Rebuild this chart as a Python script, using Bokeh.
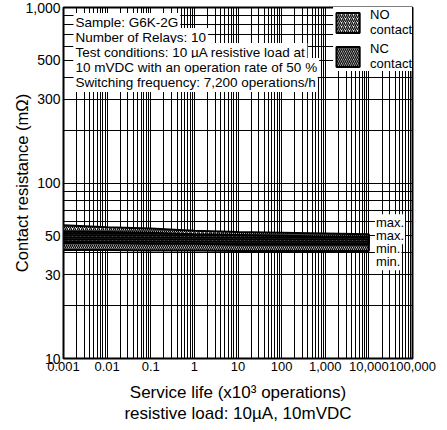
from bokeh.plotting import figure
from bokeh.models import FixedTicker, Label, Legend, LegendItem
from bokeh.embed import file_html
from bokeh.resources import INLINE

# ---- data ----
service_life = [0.001, 0.01, 0.1, 1, 10, 100, 1000, 10000]
no_max = [57.5, 56.0, 55.0, 53.5, 52.5, 52.0, 51.5, 51.0]
no_min = [45.5, 45.5, 45.0, 45.0, 44.5, 44.5, 44.5, 44.5]
nc_max = [53.0, 52.5, 52.0, 51.0, 50.5, 50.0, 49.5, 49.5]
nc_min = [41.5, 41.5, 41.3, 41.2, 41.0, 41.0, 41.0, 41.0]

x_tick_values = [0.001, 0.01, 0.1, 1, 10, 100, 1000, 10000, 100000]
x_tick_labels = ["0.001", "0.01", "0.1", "1", "10", "100", "1,000", "10,000", "100,000"]
y_tick_values = [10, 30, 50, 100, 300, 500, 1000]
y_tick_labels = ["10", "30", "50", "100", "300", "500", "1,000"]

info_lines = [
    "Sample: G6K-2G",
    "Number of Relays: 10",
    "Test conditions: 10 \u00b5A resistive load at",
    "10 mVDC with an operation rate of 50 %",
    "Switching frequency: 7,200 operations/h",
]
band_labels = ["max.", "max.", "min.", "min."]
band_label_values = [59.3, 50.0, 42.2, 35.6]

FONT = "Liberation Sans"

p = figure(x_axis_type="log", y_axis_type="log",
           x_range=(0.001, 100000), y_range=(10, 1000),
           width=437, height=426,
           min_border_left=63, min_border_right=25, min_border_top=7, min_border_bottom=67,
           output_backend="svg", toolbar_location=None)

p.background_fill_color = "white"
p.outline_line_color = "black"
p.outline_line_width = 2

# grid: lines at every 1..9 multiple of each decade
x_grid = [m * 10.0 ** k for k in range(-3, 5) for m in range(1, 10)] + [100000]
y_grid = [m * 10.0 ** k for k in range(1, 3) for m in range(1, 10)] + [1000]
p.xgrid.ticker = FixedTicker(ticks=x_grid)
p.ygrid.ticker = FixedTicker(ticks=y_grid)
for g in (p.xgrid, p.ygrid):
    g.grid_line_color = "black"
    g.grid_line_alpha = 1.0
    g.grid_line_width = 1

# axes
p.xaxis.ticker = FixedTicker(ticks=x_tick_values)
p.yaxis.ticker = FixedTicker(ticks=y_tick_values)
p.xaxis.major_label_overrides = {v: s for v, s in zip(x_tick_values, x_tick_labels)}
p.yaxis.major_label_overrides = {v: s for v, s in zip(y_tick_values, y_tick_labels)}
for ax in (p.xaxis, p.yaxis):
    ax.axis_line_color = None
    ax.major_tick_out = 0
    ax.major_tick_in = 0
    ax.minor_tick_out = 0
    ax.minor_tick_in = 0
    ax.major_label_text_font = FONT
    ax.major_label_text_color = "black"
    ax.axis_label_text_font = FONT
    ax.axis_label_text_font_style = "normal"
    ax.axis_label_text_color = "black"
p.xaxis.major_label_text_font_size = "13px"
p.yaxis.major_label_text_font_size = "14px"
p.xaxis.major_label_standoff = 3
p.yaxis.major_label_standoff = 3
p.yaxis.axis_label_standoff = -9
p.xaxis.axis_label_standoff = 9
p.yaxis.axis_label_text_font_size = "16.5px"
p.xaxis.axis_label_text_font_size = "17px"
p.xaxis.axis_label_text_line_height = 1.15
p.yaxis.axis_label = "Contact resistance (m\u03a9)"
p.xaxis.axis_label = "Service life (x10\u00b3 operations)\nresistive load: 10\u00b5A, 10mVDC"

# white underlay for the bands
p.varea(x=service_life, y1=nc_min, y2=no_max, fill_color="white", fill_alpha=1)

no_xs = service_life + service_life[::-1]
no_ys = no_max + no_min[::-1]
nc_ys = nc_max + nc_min[::-1]

r_no = p.patch(no_xs, no_ys, fill_color="white", fill_alpha=0,
               hatch_pattern="/", hatch_color="black", hatch_scale=4, hatch_weight=1.3,
               line_color="black", line_width=2)
r_nc = p.patch(no_xs, nc_ys, fill_color="white", fill_alpha=0,
               hatch_pattern="\\", hatch_color="black", hatch_scale=4, hatch_weight=1.3,
               line_color="black", line_width=2)

legend = Legend(items=[LegendItem(label="NO\ncontact", renderers=[r_no]),
                       LegendItem(label="NC\ncontact", renderers=[r_nc])],
                location="top_right")
legend.glyph_width = 29
legend.glyph_height = 25
legend.label_text_font = FONT
legend.label_text_font_size = "13px"
legend.label_text_color = "black"
legend.label_text_line_height = 1.1
legend.label_standoff = 8
legend.spacing = 4
legend.padding = 4
legend.margin = 0
legend.border_line_color = None
legend.background_fill_color = "white"
legend.background_fill_alpha = 1
p.add_layout(legend)

# info text block (top-left)
for i, line in enumerate(info_lines):
    p.add_layout(Label(x=0.001, y=1000, x_offset=10, y_offset=-15 - 15 * i,
                       text=line, text_font=FONT, text_font_size="13.5px",
                       text_baseline="middle", text_color="black",
                       background_fill_color="white", background_fill_alpha=1,
                       padding=2))

# max./min. annotations at the right end of the bands
for txt, val in zip(band_labels, band_label_values):
    p.add_layout(Label(x=service_life[-1], y=val, x_offset=6,
                       text=txt, text_font=FONT, text_font_size="13px",
                       text_baseline="middle", text_color="black",
                       background_fill_color="white", background_fill_alpha=1,
                       padding=1))

open("out.html", "w").write(file_html(p, INLINE))
